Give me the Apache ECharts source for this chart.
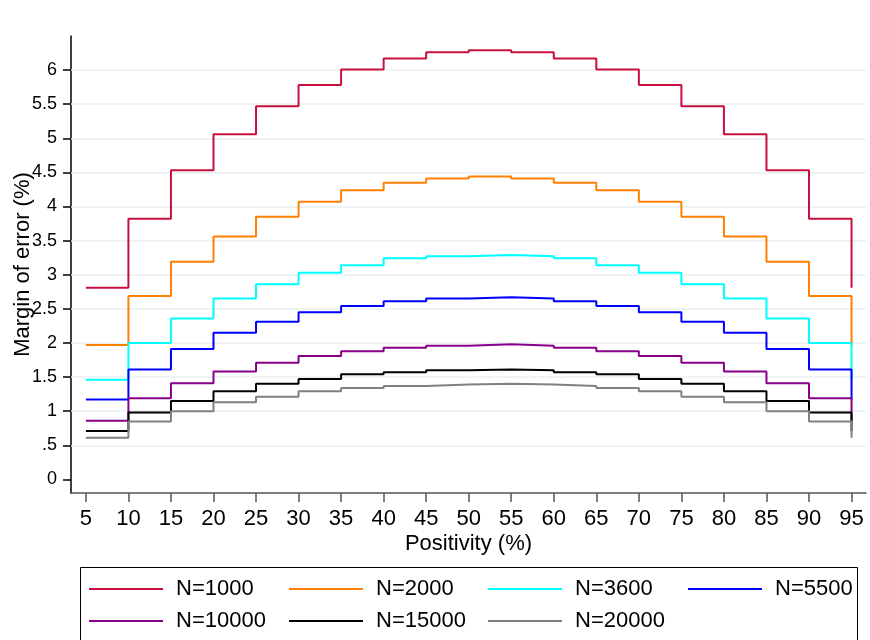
<!DOCTYPE html>
<html>
<head>
<meta charset="utf-8">
<script src="https://cdn.jsdelivr.net/npm/echarts@6/dist/echarts.min.js"></script>
<style>
html,body{margin:0;padding:0;background:#fff;}
#chart{width:870px;height:640px;}
</style>
</head>
<body>
<div id="chart"></div>
<script>
const positivity = [5,10,15,20,25,30,35,40,45,50,55,60,65,70,75,80,85,90,95];
const yTicks = [0,0.5,1,1.5,2,2.5,3,3.5,4,4.5,5,5.5,6];
const gridValues = [0.5,1,1.5,2,2.5,3,3.5,4,4.5,5,5.5,6];
const seriesNames = ['N=1000','N=2000','N=3600','N=5500','N=10000','N=15000','N=20000'];
const n1000  = [2.81,3.82,4.53,5.06,5.47,5.78,6.01,6.17,6.26,6.29,6.26,6.17,6.01,5.78,5.47,5.06,4.53,3.82,2.81];
const n2000  = [1.97,2.69,3.19,3.56,3.85,4.07,4.24,4.35,4.41,4.44,4.41,4.35,4.24,4.07,3.85,3.56,3.19,2.69,1.97];
const n3600  = [1.46,2.00,2.36,2.65,2.86,3.03,3.14,3.24,3.27,3.29,3.27,3.24,3.14,3.03,2.86,2.65,2.36,2.00,1.46];
const n5500  = [1.17,1.61,1.91,2.15,2.31,2.45,2.54,2.61,2.65,2.67,2.65,2.61,2.54,2.45,2.31,2.15,1.91,1.61,1.17];
const n10000 = [0.86,1.19,1.41,1.58,1.71,1.81,1.88,1.93,1.96,1.98,1.96,1.93,1.88,1.81,1.71,1.58,1.41,1.19,0.86];
const n15000 = [0.71,0.98,1.15,1.29,1.40,1.47,1.54,1.57,1.60,1.61,1.60,1.57,1.54,1.47,1.40,1.29,1.15,0.98,0.71];
const n20000 = [0.61,0.85,1.00,1.13,1.21,1.29,1.34,1.37,1.39,1.40,1.39,1.37,1.34,1.29,1.21,1.13,1.00,0.85,0.61];
const allValues = [n1000,n2000,n3600,n5500,n10000,n15000,n20000];
const colors = ['#c8103c','#ff8000','#00ffff','#0000ff','#880088','#000000','#808080'];

const FONT = 'Liberation Sans, Arial, sans-serif';
const chart = echarts.init(document.getElementById('chart'));

const series = seriesNames.map((name, k) => ({
  name: name,
  type: 'line',
  step: 'end',
  symbol: 'none',
  data: positivity.map((x, i) => [x, allValues[k][i]]),
  lineStyle: { color: colors[k], width: 2 },
  itemStyle: { color: colors[k] },
  z: 3
}));
series.push({
  name: 'grid',
  type: 'line',
  data: [],
  silent: true,
  z: 1,
  markLine: {
    silent: true,
    z: 1,
    symbol: ['none','none'],
    label: { show: false },
    lineStyle: { color: '#e9f0f3', width: 1.5, type: 'solid' },
    data: gridValues.map(v => ({ yAxis: v }))
  }
});

const legendPos = [
  [89, 578], [289, 578], [488, 578], [688, 578],
  [89, 610], [289, 610], [488, 610]
];
const legends = seriesNames.map((name, k) => ({
  data: [name],
  left: legendPos[k][0],
  top: legendPos[k][1],
  padding: 0,
  icon: 'rect',
  itemWidth: 74,
  itemHeight: 2,
  selectedMode: false,
  textStyle: { fontFamily: FONT, fontSize: 22, color: '#000', padding: [0,0,0,8] }
}));

chart.setOption({
  animation: false,
  backgroundColor: '#fff',
  color: colors,
  textStyle: { fontFamily: FONT },
  grid: { left: 71, right: 4, top: 36, bottom: 147, containLabel: false, outerBoundsMode: 'none' },
  legend: legends,
  graphic: [{
    type: 'rect',
    shape: { x: 80.5, y: 567.5, width: 777, height: 120 },
    style: { fill: 'none', stroke: '#000', lineWidth: 1 },
    silent: true
  }],
  xAxis: {
    type: 'value',
    min: 3.25,
    max: 96.7,
    name: 'Positivity (%)',
    nameLocation: 'middle',
    nameGap: 40,
    nameMoveOverlap: false,
    nameTextStyle: { fontFamily: FONT, fontSize: 22, color: '#000' },
    axisLine: { onZero: false, lineStyle: { color: '#555', width: 1.5 } },
    axisTick: { show: true, length: 9, customValues: positivity, lineStyle: { color: '#555', width: 1.5 } },
    axisLabel: { customValues: positivity, fontFamily: FONT, fontSize: 22, color: '#000', margin: 15 },
    splitLine: { show: false }
  },
  yAxis: {
    type: 'value',
    min: -0.2,
    max: 6.5,
    name: 'Margin of error (%)',
    nameLocation: 'middle',
    nameGap: 37,
    nameMoveOverlap: false,
    nameTextStyle: { fontFamily: FONT, fontSize: 22, color: '#000' },
    axisLine: { show: true, lineStyle: { color: '#000', width: 1.5 } },
    axisTick: { show: true, length: 8, customValues: yTicks, lineStyle: { color: '#000', width: 1.5 } },
    axisLabel: {
      customValues: yTicks,
      fontFamily: FONT, fontSize: 18, color: '#000', margin: 14,
      formatter: v => String(v).replace(/^0\./, '.')
    },
    splitLine: { show: false }
  },
  series: series
});
</script>
</body>
</html>
